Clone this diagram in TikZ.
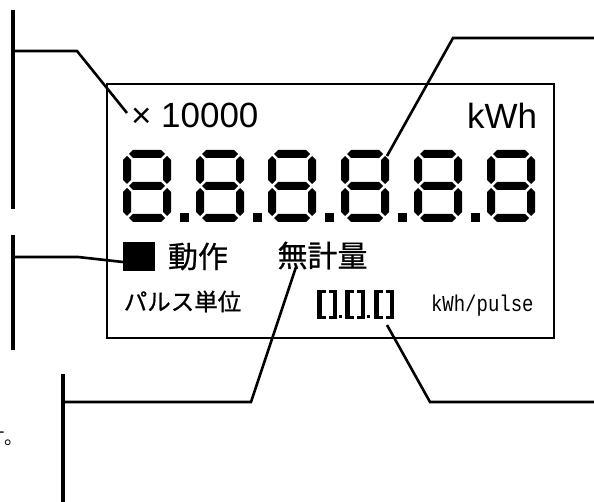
\documentclass[tikz,border=0pt]{standalone}
\usepackage{fontspec}
\setmainfont{Liberation Sans}
\newfontfamily\jpfont[FakeBold=0.7]{Noto Sans CJK JP}
\newfontfamily\jplight{Noto Sans CJK JP}
\newfontfamily\lcdmono{Liberation Mono}
\tikzset{
  leader/.style={line width=2.6pt, line join=miter},
  bar/.style={line width=4.5pt},
  lcdframe/.style={line width=2pt},
  txt/.style={inner sep=0pt, outer sep=0pt},
  pics/seg7/.style={code={
    % top
    \fill (6,4) -- (10,0) -- (38,0) -- (42,4) -- (38,8) -- (10,8) -- cycle;
    % middle
    \fill (6,36) -- (10,32) -- (38,32) -- (42,36) -- (38,40) -- (10,40) -- cycle;
    % bottom
    \fill (6,68) -- (10,64) -- (38,64) -- (42,68) -- (38,72) -- (10,72) -- cycle;
    % left upper / lower
    \fill (4,6) -- (8,10) -- (8,30) -- (4,34) -- (0,30) -- (0,10) -- cycle;
    \fill (4,38) -- (8,42) -- (8,62) -- (4,66) -- (0,62) -- (0,42) -- cycle;
    % right upper / lower
    \fill (44,6) -- (48,10) -- (48,30) -- (44,34) -- (40,30) -- (40,10) -- cycle;
    \fill (44,38) -- (48,42) -- (48,62) -- (44,66) -- (40,62) -- (40,42) -- cycle;
  }},
  pics/segdot/.style={code={\fill (0,0) rectangle (9,9);}},
  pics/smalldigit/.style={code={
    \fill (0,0) rectangle (5,29);
    \fill (0,0) rectangle (9,3);
    \fill (0,26) rectangle (9,29);
    \fill (16,0) rectangle (20,29);
    \fill (12,0) rectangle (20,3);
    \fill (12,26) rectangle (20,29);
  }},
  pics/smalldot/.style={code={\fill (0,0) rectangle (3,3);}}
}
\begin{document}
\begin{tikzpicture}[x=1pt, y=-1pt]
\useasboundingbox (0,0) rectangle (594,502);
\clip (0,0) rectangle (594,502);
\fill[white] (0,0) rectangle (594,502);

% LCD frame
\node[draw, lcdframe, minimum width=447pt, minimum height=254pt, inner sep=0pt, anchor=north west] (lcd) at (106,83) {};

% top texts
\node[txt, anchor=base west, font=\fontsize{35}{35}\selectfont] (mult) at (131,128) {× 10000};
\node[txt, anchor=base east, font=\fontsize{35}{35}\selectfont] (kwh) at (537,129) {kWh};

% big seven-segment digits
\pic (d1) at (123,150) {seg7};
\pic (p1) at (180,213) {segdot};
\pic (d2) at (196,150) {seg7};
\pic (p2) at (253,213) {segdot};
\pic (d3) at (268,150) {seg7};
\pic (p3) at (325,213) {segdot};
\pic (d4) at (341,150) {seg7};
\pic (p4) at (398,213) {segdot};
\pic (d5) at (414,150) {seg7};
\pic (p5) at (471,213) {segdot};
\pic (d6) at (487,150) {seg7};

% status row
\node[fill, minimum width=32pt, minimum height=29pt, inner sep=0pt, anchor=north west] (sq) at (123,242) {};
\node[txt, font=\jpfont\fontsize{30}{30}\selectfont] (dosa) at (198,256.5) {動作};
\node[txt, font=\jpfont\fontsize{30}{30}\selectfont] (muke) at (322.5,255.5) {無計量};

% pulse row
\node[txt, font=\jpfont\fontsize{23.5}{23.5}\selectfont] (pulse) at (182.5,301.5) {パルス単位};
\pic (s1) at (317,290) {smalldigit};
\pic (sp1) at (339,315) {smalldot};
\pic (s2) at (345,290) {smalldigit};
\pic (sp2) at (367,315) {smalldot};
\pic (s3) at (374,290) {smalldigit};
\node[txt, anchor=base west, font=\lcdmono\fontsize{19}{19}\selectfont] (unit) at (431,312) {\scalebox{1}[1.2]{kWh/pulse}};

% cut-off text at the left edge
\node[txt, anchor=base east, font=\jplight\fontsize{19}{19}\selectfont] (tail) at (23,444) {す。};

% coordinates of leader ends
\coordinate (b1a) at (13,10);   \coordinate (b1b) at (13,209);
\coordinate (b2a) at (13,235);  \coordinate (b2b) at (13,350);
\coordinate (b3a) at (63,374);  \coordinate (b3b) at (63,505);
\coordinate (l1s) at (13,51);   \coordinate (l1k) at (77,51);   \coordinate (l1e) at (127,113);
\coordinate (l2s) at (596,38);  \coordinate (l2k) at (453,38);  \coordinate (l2e) at (387,156);
\coordinate (l3s) at (13,257);  \coordinate (l3k) at (78,257);  \coordinate (l3e) at (123,262);
\coordinate (l4s) at (63,402);  \coordinate (l4k) at (251,402); \coordinate (l4e) at (296,267);
\coordinate (l5s) at (387,325); \coordinate (l5k) at (430,402); \coordinate (l5e) at (596,402);

% vertical bars
\draw[bar] (b1a) -- (b1b);
\draw[bar] (b2a) -- (b2b);
\draw[bar] (b3a) -- (b3b);

% leaders
\draw[leader] (l1s) -- (l1k) -- (l1e);
\draw[leader] (l2s) -- (l2k) -- (l2e);
\draw[leader] (l3s) -- (l3k) -- (l3e);
\draw[leader] (l4s) -- (l4k) -- (l4e);
\draw[leader] (l5s) -- (l5k) -- (l5e);
\end{tikzpicture}
\end{document}
